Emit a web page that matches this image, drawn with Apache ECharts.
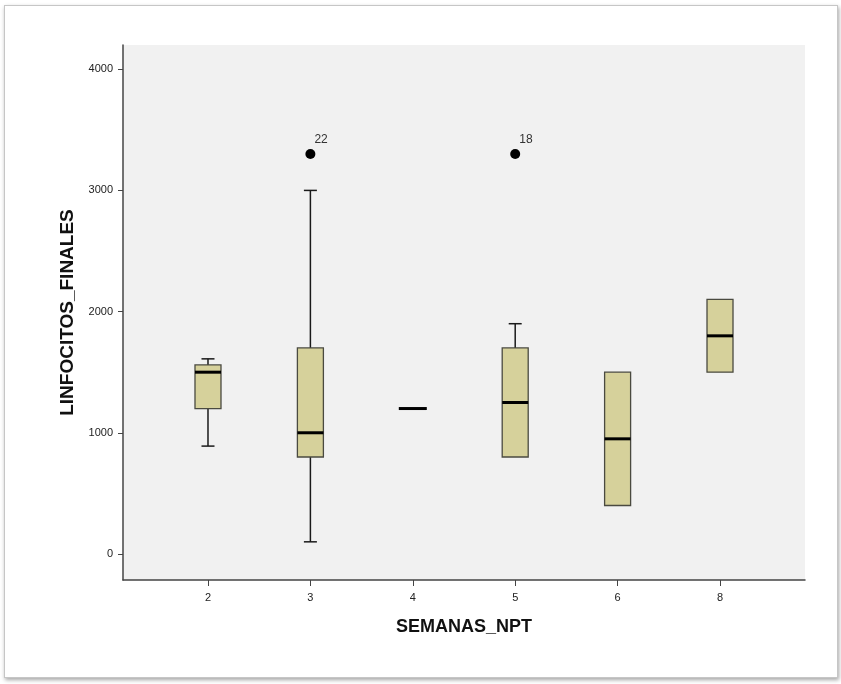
<!DOCTYPE html>
<html>
<head>
<meta charset="utf-8">
<title>LINFOCITOS_FINALES por SEMANAS_NPT</title>
<script src="https://cdn.jsdelivr.net/npm/echarts@6/dist/echarts.min.js"></script>
<style>
  body { margin: 0; background: #fff; }
  .frame {
    position: absolute;
    left: 4px; top: 5px;
    width: 832px; height: 671px;
    border: 1px solid #c6c6c6;
    box-shadow: 1px 2px 4px rgba(0, 0, 0, 0.35);
    background: #fff;
  }
  #main {
    position: absolute;
    left: 0; top: 0;
    width: 841px; height: 684px;
  }
</style>
</head>
<body>
<div class="frame"></div>
<div id="main"></div>
<script>
// categorias del eje X (semanas)
var categories = ['2', '3', '4', '5', '6', '8'];
// resumen de cada caja
var lowWhisker  = [890, 100, 1200, 800, 400, 1500];
var q1          = [1200, 800, 1200, 800, 400, 1500];
var median      = [1500, 1000, 1200, 1250, 950, 1800];
var q3          = [1560, 1700, 1200, 1700, 1500, 2100];
var highWhisker = [1610, 3000, 1200, 1900, 1500, 2100];
// valores atipicos
var outlierCat   = [1, 3];
var outlierValue = [3300, 3300];
var outlierLabel = ['22', '18'];
// marcas del eje Y
var yTicks = [0, 1000, 2000, 3000, 4000];

var boxData = categories.map(function (c, i) {
  return [i, lowWhisker[i], q1[i], median[i], q3[i], highWhisker[i]];
});
var outlierData = outlierCat.map(function (c, i) {
  return { value: [c, outlierValue[i]], label: { formatter: outlierLabel[i] } };
});

var font = '"Liberation Sans", Arial, sans-serif';

function renderBox(params, api) {
  var x = api.value(0);
  var lo = api.coord([x, api.value(1)]);
  var a = api.coord([x, api.value(2)]);
  var md = api.coord([x, api.value(3)]);
  var b = api.coord([x, api.value(4)]);
  var hi = api.coord([x, api.value(5)]);
  var half = 13, cap = 6.5;
  var hasBox = a[1] - b[1] > 0.5;
  var wStyle = { stroke: '#1a1a1a', lineWidth: 1.5 };
  var children = [];
  if (lo[1] - a[1] > 0.5) {
    children.push({ type: 'line', shape: { x1: lo[0], y1: lo[1], x2: a[0], y2: a[1] }, style: wStyle });
    children.push({ type: 'line', shape: { x1: lo[0] - cap, y1: lo[1], x2: lo[0] + cap, y2: lo[1] }, style: wStyle });
  }
  if (b[1] - hi[1] > 0.5) {
    children.push({ type: 'line', shape: { x1: b[0], y1: b[1], x2: hi[0], y2: hi[1] }, style: wStyle });
    children.push({ type: 'line', shape: { x1: hi[0] - cap, y1: hi[1], x2: hi[0] + cap, y2: hi[1] }, style: wStyle });
  }
  if (hasBox) {
    children.push({
      type: 'rect',
      shape: { x: b[0] - half, y: b[1], width: half * 2, height: a[1] - b[1] },
      style: { fill: '#d6d19b', stroke: '#4a4a40', lineWidth: 1.3 }
    });
  }
  // mediana
  var mw = hasBox ? half : half + 1;
  children.push({
    type: 'line',
    shape: { x1: md[0] - mw, y1: md[1], x2: md[0] + mw, y2: md[1] },
    style: { stroke: '#000', lineWidth: 3 }
  });
  return { type: 'group', children: children };
}

var myChart = echarts.init(document.getElementById('main'));
myChart.setOption({
  animation: false,
  grid: {
    left: 123, right: 36, top: 45, bottom: 104,
    show: true, backgroundColor: '#f1f1f1', borderWidth: 0
  },
  xAxis: {
    type: 'value',
    min: -0.83, max: 5.83,
    name: 'SEMANAS_NPT',
    nameLocation: 'middle',
    nameGap: 38,
    nameTextStyle: { fontFamily: font, fontSize: 18, fontWeight: 'bold', color: '#111' },
    splitLine: { show: false },
    axisLine: { onZero: false, lineStyle: { color: '#444', width: 1.5 } },
    axisTick: { customValues: [0, 1, 2, 3, 4, 5], length: 6, lineStyle: { color: '#444' } },
    axisLabel: {
      customValues: [0, 1, 2, 3, 4, 5],
      margin: 12,
      fontFamily: font, fontSize: 11, color: '#222',
      formatter: function (v) { return categories[Math.round(v)]; }
    }
  },
  yAxis: {
    type: 'value',
    min: -215, max: 4200,
    name: 'LINFOCITOS_FINALES',
    nameLocation: 'middle',
    nameGap: 44,
    nameTextStyle: { fontFamily: font, fontSize: 19, fontWeight: 'bold', color: '#111' },
    splitLine: { show: false },
    axisLine: { show: true, onZero: false, lineStyle: { color: '#444', width: 1.5 } },
    axisTick: { show: true, customValues: yTicks, length: 5, lineStyle: { color: '#444' } },
    axisLabel: {
      customValues: yTicks,
      margin: 10,
      fontFamily: font, fontSize: 11, color: '#222',
      formatter: function (v) { return String(v); }
    }
  },
  series: [
    {
      type: 'custom',
      renderItem: renderBox,
      data: boxData,
      encode: { x: 0, y: [1, 2, 3, 4, 5] }
    },
    {
      type: 'scatter',
      data: outlierData,
      symbolSize: 10,
      itemStyle: { color: '#000', opacity: 1 },
      label: {
        show: true,
        position: [9, -15],
        fontFamily: font, fontSize: 12, color: '#333'
      }
    }
  ]
});
</script>
</body>
</html>
